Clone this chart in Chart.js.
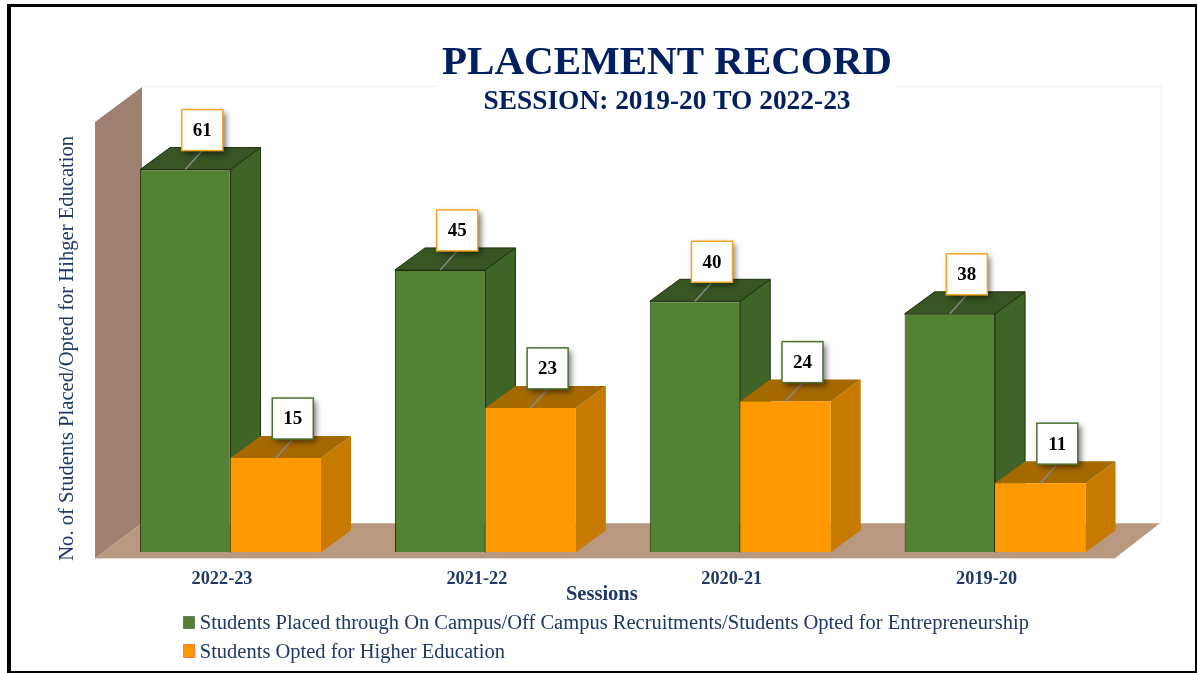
<!DOCTYPE html>
<html>
<head>
<meta charset="utf-8">
<title>Placement Record</title>
<script src="https://cdn.jsdelivr.net/npm/chart.js@4"></script>
<style>
  html, body { margin: 0; padding: 0; background: #fff; overflow: hidden; }
  #frame { position: absolute; left: 7px; top: 4px; width: 1184px; height: 664px; border: solid #000; border-width: 3px 2px 2px 4px; }
  canvas { position: absolute; left: 0; top: 0; }
</style>
</head>
<body>
<div id="frame"></div>
<canvas id="chart" width="1197" height="673"></canvas>
<script>
// ================= DATA =================
const sessions = ["2022-23", "2021-22", "2020-21", "2019-20"];
const placed = [61, 45, 40, 38];
const higherEd = [15, 23, 24, 11];
const placedLabel = "Students Placed through On Campus/Off Campus Recruitments/Students Opted for Entrepreneurship";
const higherEdLabel = "Students Opted for Higher Education";

// ================= STYLE =================
const NAVY = "#1f3864";
const TITLE_NAVY = "#002060";
const SERIF = "'Liberation Serif', serif";
const GREEN = { front: "#548235", side: "#3f6428", top: "#375623", edge: "#1f3010" };
const ORANGE = { front: "#ff9900", side: "#c67a00", top: "#a66900", edge: "#ff9900" };
const DEPTH_X = 30, DEPTH_Y = 22;

function poly(ctx, pts, fill, stroke) {
  ctx.beginPath();
  pts.forEach((p, i) => i ? ctx.lineTo(p[0], p[1]) : ctx.moveTo(p[0], p[1]));
  ctx.closePath();
  ctx.fillStyle = fill;
  ctx.fill();
  if (stroke) {
    ctx.strokeStyle = stroke;
    ctx.lineWidth = 1;
    ctx.stroke();
  }
}

// ================= 3D FACES + LABELS =================
const box3d = {
  id: "box3d",
  afterLayout(chart) {
    // title, legend and axis title sit off the plot centre in the original
    chart.boxes.forEach(b => {
      if (b === chart.legend) {
        b.left = 169; b.right = 1100; b.top = 605; b.bottom = 670;
      }
      if (b === chart.titleBlock) {
        b.left = 367; b.right = 967; b.top = 38.4;
      } else if (b.options && b.options.text === "SESSION: 2019-20 TO 2022-23") {
        b.left = 367; b.right = 967; b.top = 85;
      }
    });
    chart.scales.x.left -= 22;
    chart.scales.x.bottom = 607.5;
  },
  beforeDatasetsDraw(chart) {
    const ctx = chart.ctx;
    const a = chart.chartArea;
    const base = a.bottom;
    ctx.save();

    // back wall outline
    ctx.strokeStyle = "#eeeeee";
    ctx.lineWidth = 1;
    ctx.beginPath();
    ctx.moveTo(142, 86.5); ctx.lineTo(437, 86.5);
    ctx.moveTo(897, 86.5); ctx.lineTo(1161, 86.5); ctx.lineTo(1161, base - 29);
    ctx.stroke();

    // side wall and floor
    poly(ctx, [[95, 122], [142, 87], [142, base - 29], [95, base + 6]], "#a08070");
    poly(ctx, [[95, base + 6], [142, base - 29], [1160, base - 29], [1115, base + 6]], "#b99880");
    ctx.fillStyle = "#e8d8cc";
    ctx.fillRect(95, base + 6, 1020, 1);

    [GREEN, ORANGE].forEach((c, ds) => {
      chart.getDatasetMeta(ds).data.forEach(bar => {
        const l = bar.x - bar.width / 2, r = bar.x + bar.width / 2;
        poly(ctx, [[r, bar.y], [r + DEPTH_X, bar.y - DEPTH_Y], [r + DEPTH_X, bar.base - DEPTH_Y], [r, bar.base]], c.side, ds ? null : c.edge);
        poly(ctx, [[l, bar.y], [l + DEPTH_X, bar.y - DEPTH_Y], [r + DEPTH_X, bar.y - DEPTH_Y], [r, bar.y]], c.top, ds ? null : c.edge);
      });
    });
    ctx.restore();
  },
  afterDatasetsDraw(chart) {
    const ctx = chart.ctx;
    const size = 41;
    ctx.save();
    [ORANGE, GREEN].forEach((border, ds) => {
      const values = chart.data.datasets[ds].data;
      chart.getDatasetMeta(ds).data.forEach((bar, i) => {
        const bx = bar.x + 17 - size / 2, by = bar.y - 19 - size;

        ctx.strokeStyle = "#8a8a8a";
        ctx.lineWidth = 1.5;
        ctx.beginPath();
        ctx.moveTo(bar.x, bar.y);
        ctx.lineTo(bar.x + 17, bar.y - 19);
        ctx.stroke();

        ctx.save();
        ctx.shadowColor = "rgba(0,0,0,0.55)";
        ctx.shadowBlur = 6;
        ctx.shadowOffsetX = 3;
        ctx.shadowOffsetY = 3;
        ctx.fillStyle = "#fff";
        ctx.fillRect(bx, by, size, size);
        ctx.restore();

        ctx.strokeStyle = border === ORANGE ? "#f5a623" : "#4b7030";
        ctx.lineWidth = 1.5;
        ctx.strokeRect(bx, by, size, size);

        ctx.fillStyle = "#000";
        ctx.font = "bold 19px " + SERIF;
        ctx.textAlign = "center";
        ctx.textBaseline = "middle";
        ctx.fillText(values[i], bx + size / 2, by + size / 2 + 1);
      });
    });
    ctx.restore();
  },
  afterDraw(chart) {
    // legend swatches sit closer to the text than the library's gap allows
    const ctx = chart.ctx;
    ctx.save();
    poly(ctx, [[183.5, 616.5], [194.5, 616.5], [194.5, 628.5], [183.5, 628.5]], GREEN.front, "#6b7f5c");
    poly(ctx, [[183.5, 644.5], [194.5, 644.5], [194.5, 657.5], [183.5, 657.5]], ORANGE.front, "#ff7a45");
    ctx.restore();
  }
};

// ================= CHART =================
new Chart(document.getElementById("chart"), {
  type: "bar",
  data: {
    labels: sessions,
    datasets: [
      {
        label: placedLabel,
        data: placed,
        backgroundColor: GREEN.front,
        borderColor: GREEN.edge,
        borderWidth: 1,
        categoryPercentage: 0.71,
        barPercentage: 1
      },
      {
        label: higherEdLabel,
        data: higherEd,
        backgroundColor: ORANGE.front,
        borderWidth: 0,
        categoryPercentage: 0.71,
        barPercentage: 1
      }
    ]
  },
  options: {
    responsive: false,
    animation: false,
    events: [],
    layout: { padding: { left: 44.4, right: 74.5, top: 62.4, bottom: -17.7 } },
    plugins: {
      title: {
        display: true,
        text: "PLACEMENT RECORD",
        color: TITLE_NAVY,
        font: { family: SERIF, size: 41, weight: "bold", lineHeight: 1.2 },
        padding: 0
      },
      subtitle: {
        display: true,
        text: "SESSION: 2019-20 TO 2022-23",
        color: TITLE_NAVY,
        font: { family: SERIF, size: 27.4, weight: "bold", lineHeight: 1.2 },
        padding: 0
      },
      legend: {
        position: "bottom",
        align: "start",
        fullSize: false,
        maxWidth: 950,
        labels: {
          color: NAVY,
          font: { family: SERIF, size: 20.5 },
          boxWidth: 12,
          boxHeight: 12,
          padding: 8.5,
          generateLabels(chart) {
            return Chart.defaults.plugins.legend.labels.generateLabels(chart).map(item => {
              item.fillStyle = "rgba(0,0,0,0)";
              item.strokeStyle = "rgba(0,0,0,0)";
              return item;
            });
          }
        }
      },
      tooltip: { enabled: false }
    },
    scales: {
      x: {
        grid: { display: false },
        border: { display: false },
        ticks: {
          color: NAVY,
          font: { family: SERIF, size: 18.3, weight: "bold" },
          padding: 8,
          labelOffset: -8.5,
          maxRotation: 0,
          autoSkip: false
        },
        title: {
          display: true,
          text: "Sessions",
          color: NAVY,
          font: { family: SERIF, size: 20.5, weight: "bold" },
          padding: 0
        }
      },
      y: {
        min: 0,
        max: 65,
        grid: { display: false },
        border: { display: false },
        ticks: { display: false },
        title: {
          display: true,
          text: "No. of Students Placed/Opted for Hihger Education",
          color: NAVY,
          font: { family: SERIF, size: 20.6 },
          padding: { top: 11, bottom: 15 }
        }
      }
    }
  },
  plugins: [box3d]
});
</script>
</body>
</html>
